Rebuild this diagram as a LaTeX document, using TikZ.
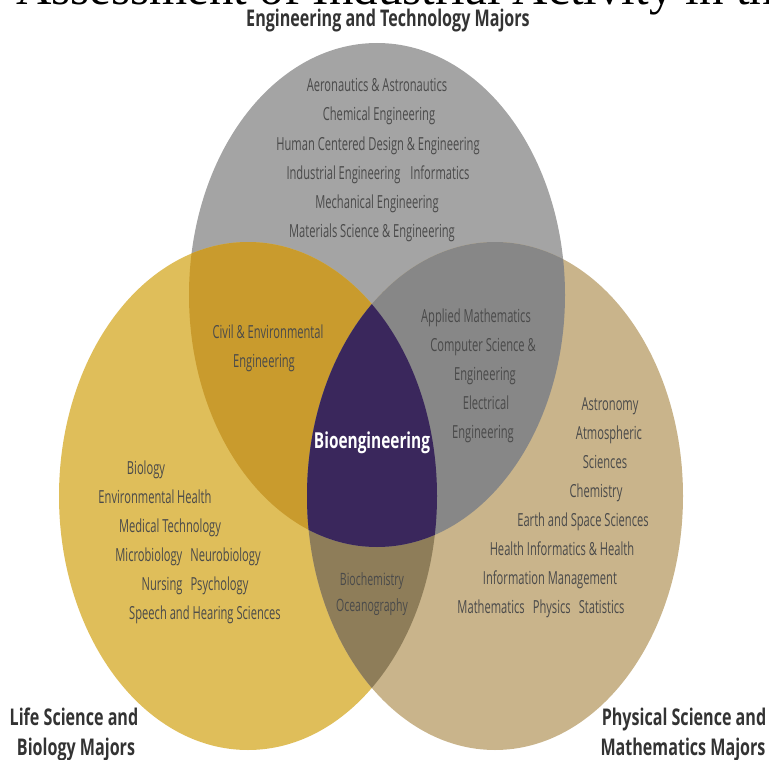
\documentclass[tikz,border=0pt]{standalone}
\usepackage{fontspec}
\setmainfont{Liberation Serif}
\newfontfamily\condfont{Open Sans}[FakeStretch=0.62]
\newfontfamily\headfont{Open Sans}[FakeStretch=0.7]
\usetikzlibrary{positioning}

\definecolor{engfill}{HTML}{A4A4A4}
\definecolor{lifefill}{HTML}{DFBE5A}
\definecolor{physfill}{HTML}{C9B48B}
\definecolor{civilfill}{HTML}{C99B2D}
\definecolor{compfill}{HTML}{878787}
\definecolor{chemfill}{HTML}{8E7D59}
\definecolor{biofill}{HTML}{3A275C}
\definecolor{majortext}{HTML}{4A4A4A}
\definecolor{headtext}{HTML}{333333}

\begin{document}
\begin{tikzpicture}[x=1pt, y=-1pt,
    major/.style={font=\condfont\fontsize{18}{20}\selectfont, text=majortext, inner sep=0pt, anchor=base},
    smallmajor/.style={major, font=\condfont\fontsize{17}{19}\selectfont},
    heading/.style={font=\headfont\bfseries\fontsize{23}{25}\selectfont, text=headtext, inner sep=0pt, anchor=base}]
        \useasboundingbox (0,0) rectangle (769,760);
        \clip (0,0) rectangle (769,760);
        % the three circles
        \def\engellipse{(377,295) ellipse [x radius=188, y radius=252]}
        \def\lifeellipse{(248,496) ellipse [x radius=189, y radius=254]}
        \def\physellipse{(495,496) ellipse [x radius=188, y radius=254]}
        \fill[engfill] \engellipse;
        \fill[lifefill] \lifeellipse;
        \fill[physfill] \physellipse;
        % overlaps
        \begin{scope}
            \clip \lifeellipse;
            \fill[civilfill] \engellipse;
            \fill[chemfill] \physellipse;
        \end{scope}
        \begin{scope}
            \clip \physellipse;
            \fill[compfill] \engellipse;
        \end{scope}
        \begin{scope}
            \clip \lifeellipse;
            \clip \physellipse;
            \fill[biofill] \engellipse;
        \end{scope}
        % cut-off title
        \node[font=\fontsize{49}{52}\selectfont, inner sep=0pt, anchor=base west] (title) at (16,5) {Assessment of Industrial Activity in the};
        % headings
        \node[heading] (enghead) at (388,27) {Engineering and Technology Majors};
        \node[heading] (lifehead1) at (74,725) {Life Science and};
        \node[heading] (lifehead2) at (76,755) {Biology Majors};
        \node[heading] (physhead1) at (684,725) {Physical Science and};
        \node[heading] (physhead2) at (683,755) {Mathematics Majors};
        % engineering only
        \foreach \txt/\xc [count=\i] in {Aeronautics \& Astronautics/377, Chemical Engineering/379,
            Human Centered Design \& Engineering/378, Industrial Engineering\hspace{10pt}Informatics/378,
            Mechanical Engineering/377, Materials Science \& Engineering/372} {
            \node[major] (eng\i) at (\xc,{63+29*\i}) {\txt};
        }
        % engineering and life science
        \node[major] (civil1) at (268,338) {Civil \& Environmental};
        \node[major] (civil2) at (264,367) {Engineering};
        % engineering and physical science
        \foreach \txt/\xc [count=\i] in {Applied Mathematics/476, Computer Science \&/483,
            Engineering/485, Electrical/486, Engineering/483} {
            \node[major] (comp\i) at (\xc,{293+29*\i}) {\txt};
        }
        % all three
        \node[heading, text=white, font=\headfont\bfseries\fontsize{22}{24}\selectfont] (bio) at (372,448) {Bioengineering};
        % life science only
        \foreach \txt/\xc [count=\i] in {Biology/146, Environmental Health/155, Medical Technology/170,
            Microbiology\hspace{8pt}Neurobiology/188, Nursing\hspace{8pt}Psychology/195,
            Speech and Hearing Sciences/205} {
            \node[major] (life\i) at (\xc,{445+29*\i}) {\txt};
        }
        % physical science only
        \foreach \txt/\xc [count=\i] in {Astronomy/610, Atmospheric/609, Sciences/605, Chemistry/596,
            Earth and Space Sciences/583, Health Informatics \& Health/562, Information Management/550,
            Mathematics\hspace{8pt}Physics\hspace{8pt}Statistics/541} {
            \node[major] (phys\i) at (\xc,{382+28.9*\i}) {\txt};
        }
        % life science and physical science
        \node[smallmajor] (chem1) at (372,585) {Biochemistry};
        \node[smallmajor] (chem2) at (372,611) {Oceanography};
    \end{tikzpicture}
\end{document}
